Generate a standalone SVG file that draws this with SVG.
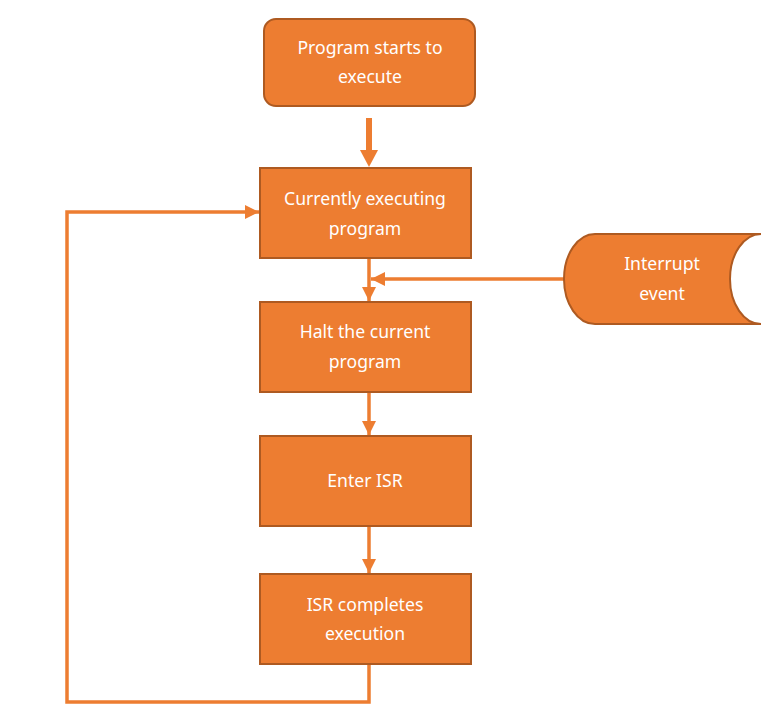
<svg xmlns="http://www.w3.org/2000/svg" width="778" height="728" viewBox="0 0 778 728">
<defs>
<style>
.box{fill:#ED7D31;stroke:#AE5A21;stroke-width:2}
.t{font-family:"Noto Sans","Open Sans",sans-serif;font-size:17.6px;fill:#FFFFFF;text-anchor:middle}
.ln{fill:none;stroke:#ED7D31;stroke-width:3.5}
</style>
<marker id="ah" viewBox="0 0 10 10" refX="10" refY="5" markerWidth="4" markerHeight="4" markerUnits="strokeWidth" orient="auto">
<path d="M0,0 L10,5 L0,10 Z" fill="#ED7D31"/>
</marker>
</defs>
<rect width="778" height="728" fill="#FFFFFF"/>
<g id="connectors">
<path d="M369,118 V151" stroke="#ED7D31" stroke-width="6" fill="none"/>
<path d="M360,150 L378,150 L369,167 Z" fill="#ED7D31"/>
<path class="ln" d="M369,259 V301" marker-end="url(#ah)"/>
<path class="ln" d="M564,279 H371" marker-end="url(#ah)"/>
<path class="ln" d="M369,393 V435" marker-end="url(#ah)"/>
<path class="ln" d="M369,527 V573" marker-end="url(#ah)"/>
<path class="ln" d="M369,665 V702 H67 V212 H259" marker-end="url(#ah)"/>
</g>
<g id="start">
<rect class="box" x="264" y="19" width="211" height="87" rx="12"/>
<text class="t" x="370" y="54">Program starts to</text>
<text class="t" x="370" y="83">execute</text>
</g>
<g id="current">
<rect class="box" x="260" y="168" width="211" height="90"/>
<text class="t" x="365" y="205">Currently executing</text>
<text class="t" x="365" y="235">program</text>
</g>
<g id="interrupt">
<path class="box" d="M761,234 L595,234 A31,45 0 0 0 595,324 L761,324 A31,45 0 0 1 761,234 Z"/>
<text class="t" x="662" y="270">Interrupt</text>
<text class="t" x="662" y="300">event</text>
</g>
<g id="halt">
<rect class="box" x="260" y="302" width="211" height="90"/>
<text class="t" x="365" y="338">Halt the current</text>
<text class="t" x="365" y="368">program</text>
</g>
<g id="isr">
<rect class="box" x="260" y="436" width="211" height="90"/>
<text class="t" x="365" y="487">Enter ISR</text>
</g>
<g id="done">
<rect class="box" x="260" y="574" width="211" height="90"/>
<text class="t" x="365" y="611">ISR completes</text>
<text class="t" x="365" y="640">execution</text>
</g>
</svg>
